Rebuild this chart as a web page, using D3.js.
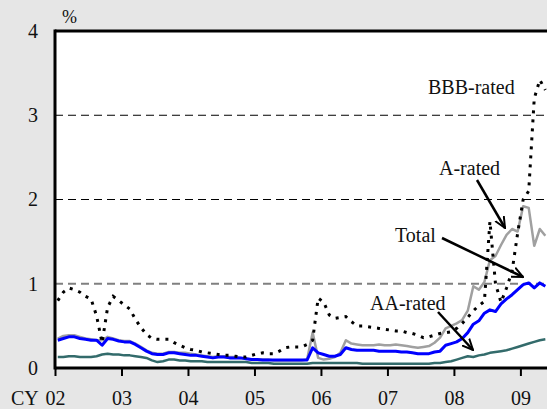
<!DOCTYPE html>
<html><head><meta charset="utf-8">
<script src="https://cdn.jsdelivr.net/npm/d3@7"></script>
<style>
html,body{margin:0;padding:0;background:#e6e6e6;}
svg{display:block;}
text{font-family:"Liberation Serif","Times New Roman",serif;fill:#111;}
</style></head>
<body>
<svg id="chart" width="547" height="409" font-family="Liberation Serif, Times New Roman, serif"></svg>
<script>
// Monthly observations, Jan 2002 .. May 2009 (percent)
const startYear = 2002;
const yearTicks = [2002, 2003, 2004, 2005, 2006, 2007, 2008, 2009];
const yearTickLabels = ["02", "03", "04", "05", "06", "07", "08", "09"];
const yTicks = [0, 1, 2, 3, 4];

const total = [0.33,0.35,0.37,0.37,0.35,0.34,0.33,0.33,0.27,0.35,0.34,0.32,
  0.31,0.31,0.28,0.24,0.20,0.17,0.16,0.16,0.18,0.18,0.17,0.16,
  0.15,0.15,0.14,0.13,0.12,0.13,0.13,0.12,0.12,0.12,0.11,0.10,
  0.10,0.095,0.095,0.095,0.095,0.095,0.095,0.095,0.095,0.095,0.24,0.18,
  0.16,0.14,0.14,0.16,0.24,0.22,0.21,0.21,0.21,0.21,0.20,0.20,
  0.20,0.20,0.19,0.19,0.18,0.17,0.17,0.17,0.19,0.20,0.27,0.29,
  0.31,0.35,0.42,0.52,0.56,0.65,0.69,0.67,0.76,0.82,0.87,0.93,
  0.99,1.01,0.95,1.01,0.97];

const aRated = [0.35,0.38,0.39,0.39,0.37,0.35,0.34,0.33,0.33,0.37,0.35,0.33,
  0.32,0.32,0.29,0.25,0.21,0.18,0.17,0.17,0.19,0.19,0.18,0.18,
  0.17,0.16,0.15,0.14,0.13,0.14,0.14,0.13,0.13,0.12,0.11,0.10,
  0.10,0.10,0.10,0.09,0.09,0.09,0.09,0.09,0.09,0.10,0.42,0.12,
  0.10,0.11,0.13,0.18,0.33,0.29,0.28,0.27,0.27,0.27,0.28,0.27,
  0.27,0.28,0.27,0.26,0.25,0.24,0.25,0.26,0.30,0.36,0.47,0.50,
  0.53,0.57,0.68,0.97,0.93,1.02,1.28,1.33,1.46,1.58,1.65,1.62,
  1.92,1.90,1.45,1.65,1.57];

const aaRated = [0.13,0.13,0.14,0.14,0.13,0.13,0.13,0.14,0.16,0.17,0.16,0.16,
  0.15,0.15,0.14,0.13,0.12,0.09,0.07,0.08,0.10,0.10,0.09,0.09,
  0.08,0.08,0.08,0.07,0.07,0.07,0.07,0.07,0.07,0.07,0.07,0.06,
  0.06,0.06,0.06,0.05,0.05,0.05,0.05,0.05,0.05,0.05,0.06,0.06,
  0.06,0.06,0.06,0.06,0.06,0.06,0.06,0.05,0.05,0.05,0.05,0.05,
  0.05,0.05,0.05,0.05,0.05,0.05,0.05,0.05,0.06,0.06,0.07,0.08,
  0.10,0.12,0.14,0.13,0.15,0.16,0.18,0.19,0.20,0.21,0.23,0.25,
  0.27,0.29,0.31,0.33,0.34];

const bbbRated = [0.80,0.90,0.95,0.93,0.90,0.85,0.82,0.62,0.30,0.72,0.85,0.80,
  0.75,0.70,0.58,0.48,0.40,0.35,0.34,0.34,0.34,0.30,0.27,0.24,
  0.22,0.21,0.19,0.18,0.17,0.16,0.15,0.15,0.14,0.13,0.13,0.15,
  0.17,0.18,0.17,0.17,0.20,0.24,0.25,0.25,0.25,0.28,0.33,0.83,
  0.78,0.63,0.59,0.60,0.61,0.55,0.50,0.50,0.49,0.48,0.47,0.46,
  0.45,0.44,0.44,0.42,0.41,0.39,0.36,0.37,0.39,0.41,0.42,0.43,
  0.47,0.53,0.60,0.68,0.74,0.79,1.74,1.00,0.78,0.95,1.15,1.60,
  2.00,2.10,3.20,3.42,3.30];

const seriesNames = ["AA-rated", "A-rated", "Total", "BBB-rated"];

const svg = d3.select("#chart");
const W = 547, H = 409;
const m = {left: 55, top: 31, bottom: 368};
const serif = "Liberation Serif, Times New Roman, serif";

const x = d3.scaleLinear().domain([2002, 2009.4]).range([m.left, W]);
const y = d3.scaleLinear().domain([0, 4]).range([m.bottom, m.top]);
const t = i => startYear + (i + 0.5) / 12;

// plot background
svg.append("rect").attr("x", m.left).attr("y", m.top)
  .attr("width", W - m.left).attr("height", m.bottom - m.top).attr("fill", "#fff");

// grid lines
svg.append("g").selectAll("line").data(yTicks.filter(d => d > 0 && d < 4)).join("line")
  .attr("x1", m.left).attr("x2", W)
  .attr("y1", d => y(d)).attr("y2", d => y(d))
  .attr("stroke", d => d === 1 ? "#808080" : "#000")
  .attr("stroke-width", d => d === 1 ? 2 : 1)
  .attr("stroke-dasharray", "8,5");

svg.append("clipPath").attr("id", "clip").append("rect")
  .attr("x", m.left).attr("y", m.top).attr("width", W - m.left).attr("height", m.bottom - m.top);

const line = d3.line().x((d, i) => x(t(i))).y(d => y(d));
const g = svg.append("g").attr("clip-path", "url(#clip)");
g.append("path").datum(aaRated).attr("d", line).attr("fill", "none")
  .attr("stroke", "#336b6b").attr("stroke-width", 2.5).attr("stroke-linejoin", "round");
g.append("path").datum(aRated).attr("d", line).attr("fill", "none")
  .attr("stroke", "#a0a0a0").attr("stroke-width", 2.5).attr("stroke-linejoin", "round");
g.append("path").datum(total).attr("d", line).attr("fill", "none")
  .attr("stroke", "#0000ff").attr("stroke-width", 3).attr("stroke-linejoin", "round");
g.append("path").datum(bbbRated).attr("d", line).attr("fill", "none")
  .attr("stroke", "#000").attr("stroke-width", 3).attr("stroke-dasharray", "3,6");

// axes
const xAxis = d3.axisBottom(x).tickValues(yearTicks)
  .tickFormat((d, i) => yearTickLabels[i]).tickSize(8).tickPadding(15);
const xa = svg.append("g").attr("transform", `translate(0,${m.bottom})`).call(xAxis)
  .attr("font-family", serif).attr("font-size", 20);
xa.select(".domain").remove();
xa.selectAll(".tick line").attr("stroke", "#000").attr("stroke-width", 2);
xa.selectAll(".tick text").attr("fill", "#111");

svg.append("line").attr("x1", m.left).attr("x2", W).attr("y1", m.bottom).attr("y2", m.bottom)
  .attr("stroke", "#000").attr("stroke-width", 3);
svg.append("line").attr("x1", m.left).attr("x2", W).attr("y1", m.top).attr("y2", m.top)
  .attr("stroke", "#000").attr("stroke-width", 3);
svg.append("line").attr("x1", m.left).attr("x2", m.left).attr("y1", m.top - 1.5).attr("y2", m.bottom + 1.5)
  .attr("stroke", "#000").attr("stroke-width", 3);

const yAxis = d3.axisLeft(y).tickValues(yTicks).tickFormat(d3.format("d")).tickSize(0).tickPadding(17);
const ya = svg.append("g").attr("transform", `translate(${m.left},0)`).call(yAxis)
  .attr("font-family", serif).attr("font-size", 20);
ya.select(".domain").remove();
ya.selectAll(".tick text").attr("fill", "#111");

svg.append("text").attr("x", 11).attr("y", 405).attr("font-size", 20).text("CY");
svg.append("text").attr("x", 62).attr("y", 23).attr("font-size", 18).text("%");

// annotations
const defs = svg.append("defs");
defs.append("marker").attr("id", "arr").attr("viewBox", "0 0 12 12")
  .attr("refX", 11).attr("refY", 6).attr("markerWidth", 12).attr("markerHeight", 12)
  .attr("markerUnits", "userSpaceOnUse").attr("orient", "auto")
  .append("path").attr("d", "M0,1 L11,6 L0,11").attr("fill", "none")
  .attr("stroke", "#000").attr("stroke-width", 2);

const notes = [
  {name: "BBB-rated", tx: 428, ty: 94, arrow: null},
  {name: "A-rated", tx: 439, ty: 175, arrow: [477, 180, 505, 228]},
  {name: "Total", tx: 395, ty: 242, arrow: [442, 238, 523, 277]},
  {name: "AA-rated", tx: 370, ty: 310, arrow: [438, 312, 473, 350]}
];
notes.forEach(n => {
  svg.append("text").attr("x", n.tx).attr("y", n.ty).attr("font-size", 20).text(n.name);
  if (n.arrow) {
    svg.append("line").attr("x1", n.arrow[0]).attr("y1", n.arrow[1])
      .attr("x2", n.arrow[2]).attr("y2", n.arrow[3])
      .attr("stroke", "#000").attr("stroke-width", 2.5).attr("marker-end", "url(#arr)");
  }
});
</script>
</body></html>
